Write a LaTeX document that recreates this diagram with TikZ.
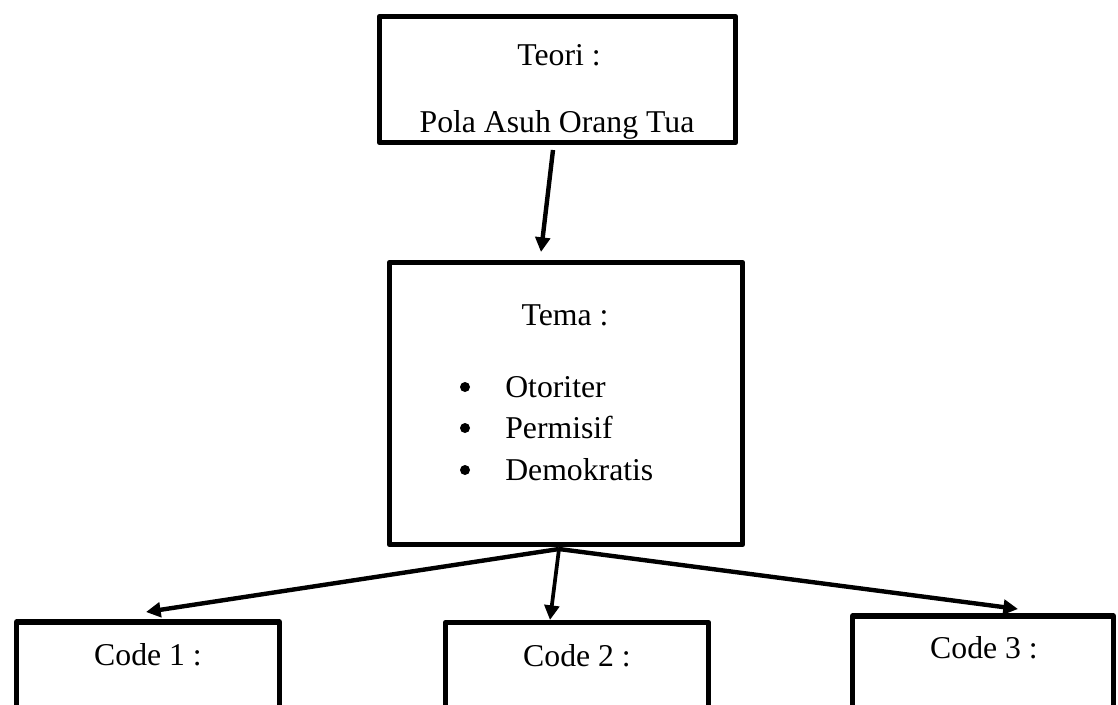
\documentclass[tikz,border=0pt]{standalone}
\usepackage{fontspec}
\setmainfont{Liberation Serif}
\usetikzlibrary{arrows.meta}
\begin{document}
\begin{tikzpicture}[x=0.75pt,y=-0.75pt,
  box/.style={draw, line width=4pt, line join=round, inner sep=0pt},
  txt/.style={inner sep=0pt, anchor=base, font=\fontsize{23.8}{28}\selectfont},
  dot/.style={circle, fill, inner sep=0pt, minimum size=7.5pt},
  conn/.style={line width=3.3pt, -{Triangle[length=11pt,width=11pt]}}]
\useasboundingbox (0,0) rectangle (1118,704);
\clip (0,0) rectangle (1118,704);
% boxes
\node[box, minimum width=267pt, minimum height=94.5pt] (teori) at (557.5,79.5) {};
\node[box, minimum width=264.75pt, minimum height=211.5pt] (tema) at (566,403.5) {};
\node[box, minimum width=197.25pt, minimum height=88.5pt] (c1) at (148,681) {};
\node[box, minimum width=197.25pt, minimum height=88.5pt] (c2) at (577,681.5) {};
\node[box, minimum width=195.75pt, minimum height=93pt] (c3) at (983,678) {};
% texts
\node[txt] (t1) at (559,65) {Teori :};
\node[txt] (t2) at (557,132) {Pola Asuh Orang Tua};
\node[txt] (t3) at (565,325) {Tema :};
\node[txt, anchor=base west] (b1) at (505,397) {Otoriter};
\node[txt, anchor=base west] (b2) at (505,438) {Permisif};
\node[txt, anchor=base west] (b3) at (505,480) {Demokratis};
\node[dot] (d1) at (465,387) {};
\node[dot] (d2) at (465,428) {};
\node[dot] (d3) at (465,470) {};
\node[txt] (k1) at (148,665) {Code 1 :};
\node[txt] (k2) at (577,666) {Code 2 :};
\node[txt] (k3) at (984,658) {Code 3 :};
% connectors
\coordinate (s0) at (553,150);
\coordinate (e0) at (541,252);
\coordinate (s1) at (559,549);
\coordinate (e1) at (146,612);
\coordinate (e2) at (550,620);
\coordinate (e3) at (1018,609);
\draw[conn] (s0) -- (e0);
\draw[conn] (s1) -- (e1);
\draw[conn, line width=2.8pt] (s1) -- (e2);
\draw[conn] (s1) -- (e3);
\end{tikzpicture}
\end{document}
